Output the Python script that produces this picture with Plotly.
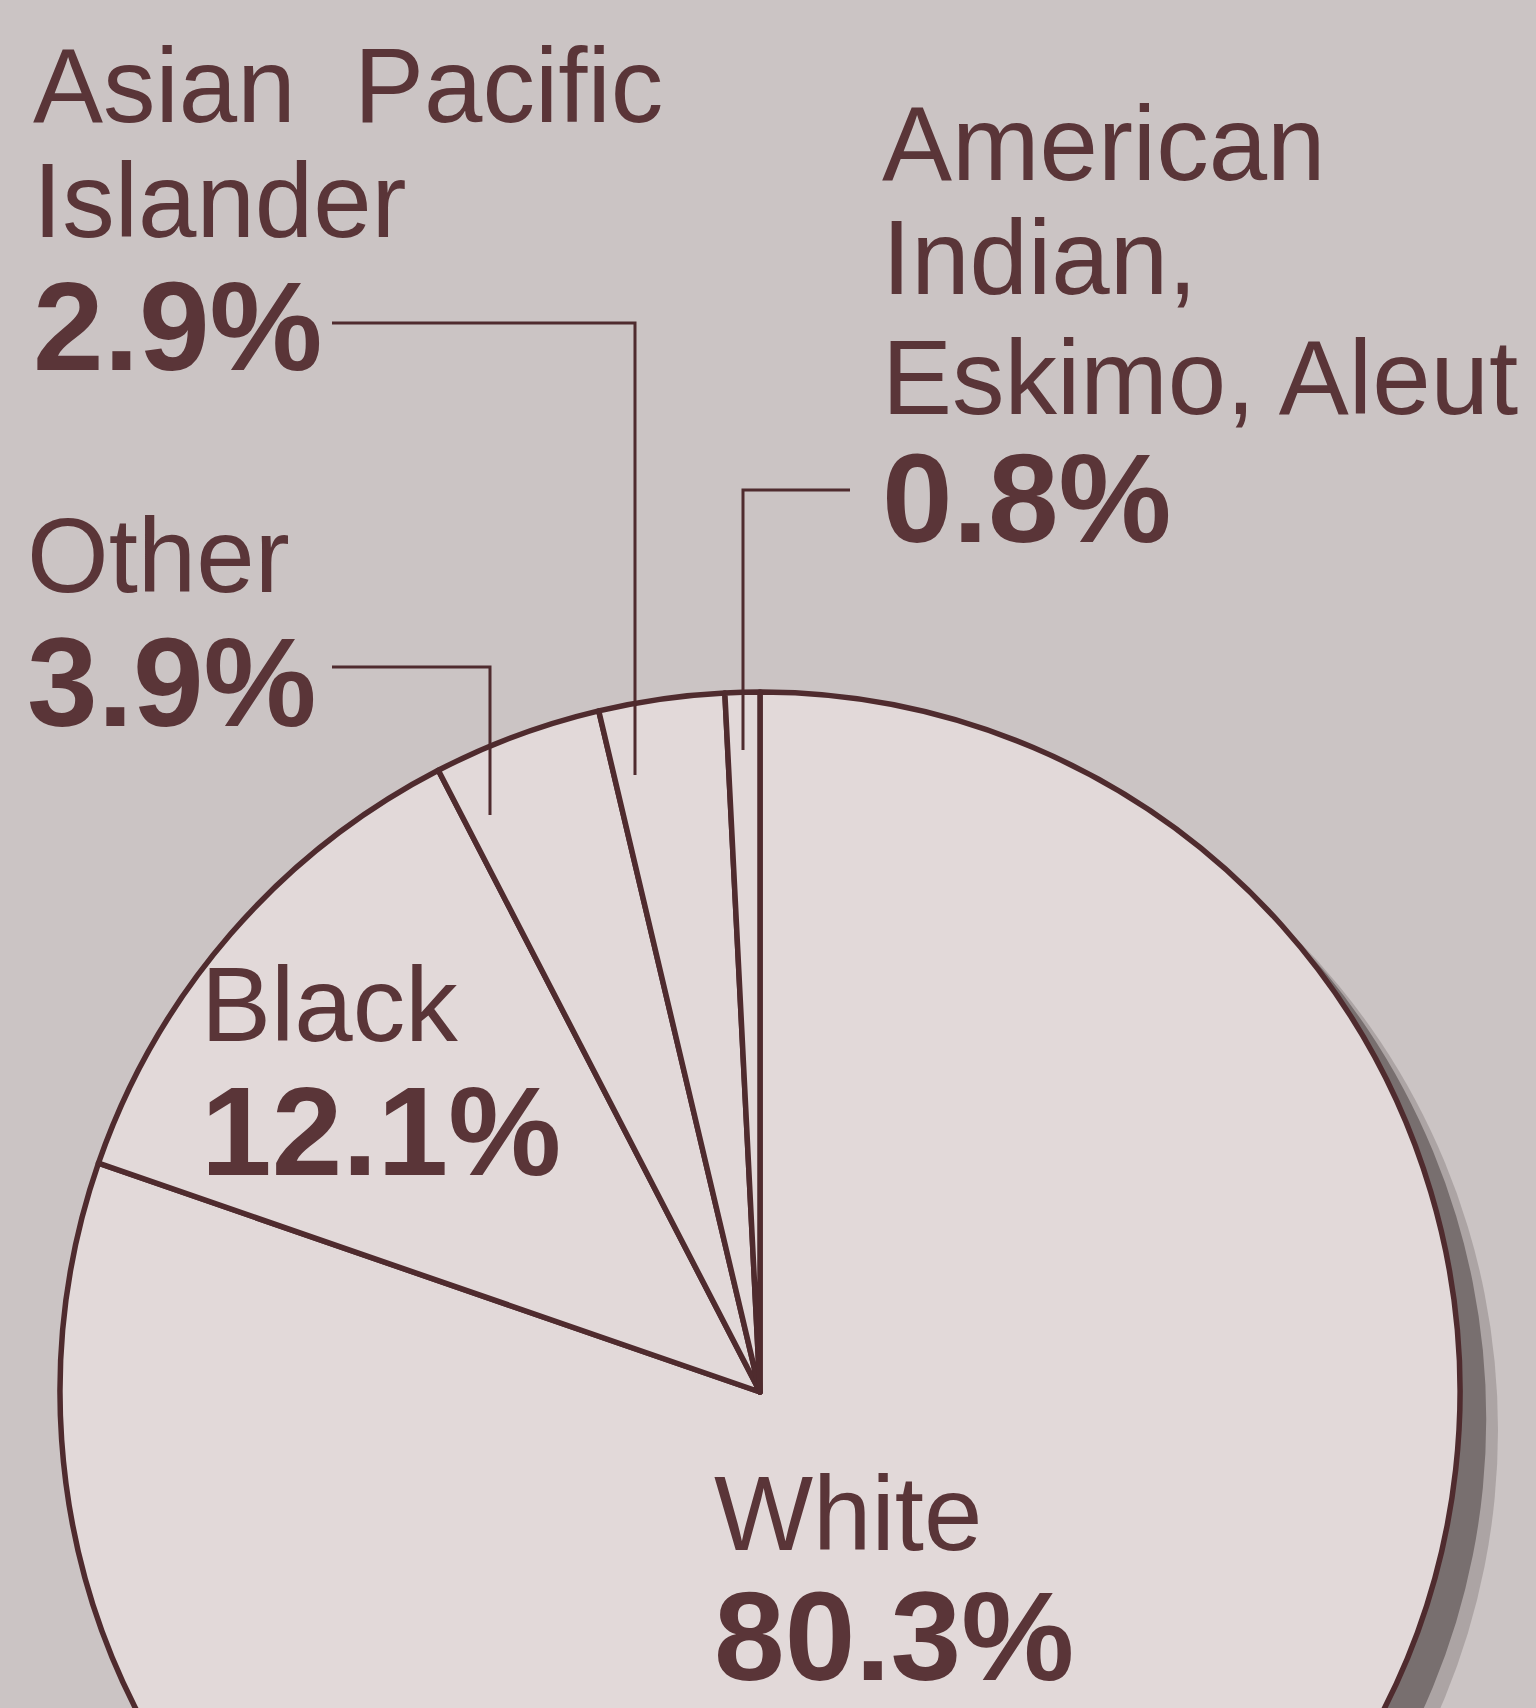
import plotly.graph_objects as go

# ---- data ----
categories = ["White", "Black", "Other", "Asian Pacific Islander",
              "American Indian, Eskimo, Aleut"]
shares = [80.3, 12.1, 3.9, 2.9, 0.8]
label_lines = [["White"], ["Black"], ["Other"],
               ["Asian\u00a0 Pacific", "Islander"],
               ["American", "Indian,", "Eskimo, Aleut"]]
pct_labels = [f"{v}%" for v in shares]

# ---- layout constants (pixels) ----
W, H = 1536, 2140
CX, CY, R = 760, 1392, 700
BG = "#cbc4c4"
FILL = "#e2d9d9"
INK = "#5a3538"
LINE = "#4f2b2e"
FONT = "Liberation Sans, Arial, Helvetica, sans-serif"
FS_LABEL = 105
FS_PCT = 127


def px(x):
    return x / W


def py(y):
    return 1 - y / H


def dom(dx=0, dy=0):
    return dict(x=[px(CX - R + dx), px(CX + R + dx)],
                y=[py(CY + R + dy), py(CY - R + dy)])


fig = go.Figure()

# drop shadow (two soft layers)
for (dx, dy, col) in [(38, 38, "#aca4a4"), (26, 27, "#786f6f")]:
    fig.add_trace(go.Pie(values=[sum(shares)], labels=["shadow"], sort=False,
                         domain=dom(dx, dy), marker=dict(colors=[col]),
                         textinfo="none", hoverinfo="skip", showlegend=False))

# main pie
fig.add_trace(go.Pie(
    values=shares, labels=categories, sort=False, direction="clockwise",
    rotation=0, domain=dom(),
    marker=dict(colors=[FILL] * len(shares), line=dict(color=LINE, width=5.5)),
    textinfo="none", hoverinfo="label+percent", showlegend=False))

annotations = []


def add_text(text, x, baseline, size, bold=False):
    # centre of the text box sits ~0.3465 em above the baseline
    yc = baseline - 0.3465 * size
    annotations.append(dict(
        text=f"<b>{text}</b>" if bold else text, x=px(x), y=py(yc),
        xref="paper", yref="paper", xanchor="left", yanchor="middle",
        showarrow=False, font=dict(family=FONT, size=size, color=INK)))


# label blocks: (left x, baselines of the name lines, baseline of the percent)
label_pos = {
    "White": (712, [1550], 1680),
    "Black": (199, [1041], 1175),
    "Other": (25, [592], 726),
    "Asian Pacific Islander": (31, [122, 237], 370),
    "American Indian, Eskimo, Aleut": (880, [180, 294, 414], 542),
}

for cat, lines, pct in zip(categories, label_lines, pct_labels):
    x0, bases, bp = label_pos[cat]
    for ln, b in zip(lines, bases):
        add_text(ln, x0, b, FS_LABEL)
    add_text(pct, x0, bp, FS_PCT, bold=True)

# leader lines
leaders = [
    [(332, 323), (635, 323), (635, 775)],   # Asian Pacific Islander
    [(850, 490), (743, 490), (743, 750)],   # American Indian
    [(332, 667), (490, 667), (490, 815)],   # Other
]
shapes = []
for pts in leaders:
    path = "M " + " L ".join(f"{px(x):.5f},{py(y):.5f}" for x, y in pts)
    shapes.append(dict(type="path", path=path, xref="paper", yref="paper",
                       line=dict(color=LINE, width=3)))

fig.update_layout(
    width=W, height=H, margin=dict(l=0, r=0, t=0, b=0),
    paper_bgcolor=BG, plot_bgcolor=BG, showlegend=False,
    annotations=annotations, shapes=shapes,
)

fig.write_html("out.html", config={"displayModeBar": False})
